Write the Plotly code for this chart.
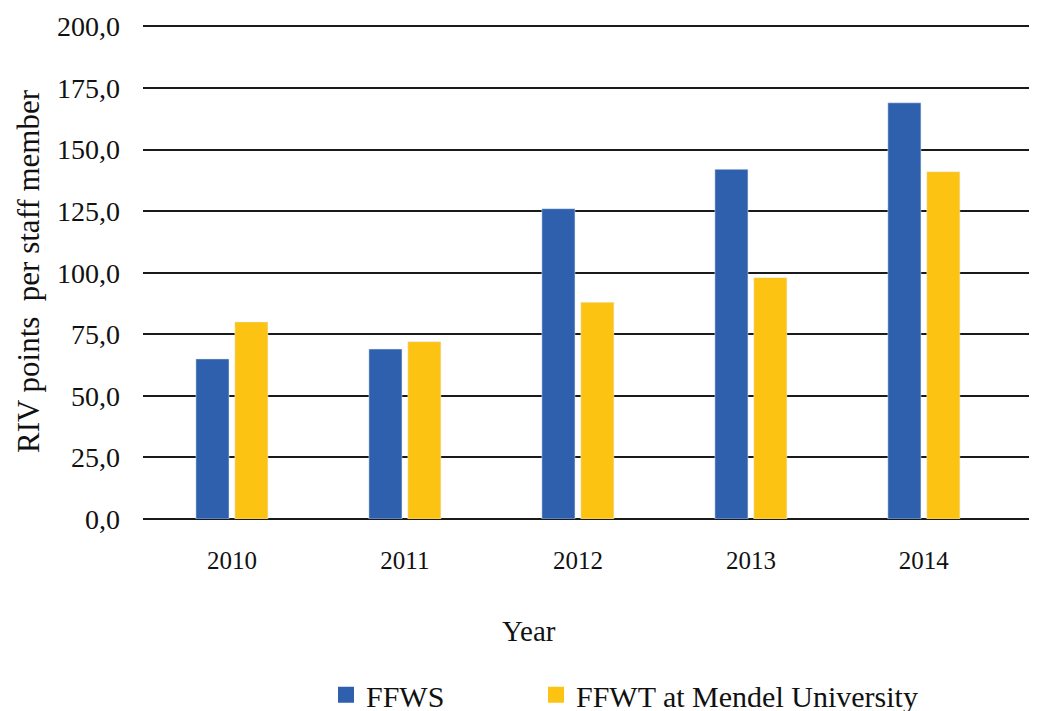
import plotly.graph_objects as go

years = ['2010', '2011', '2012', '2013', '2014']
ffws = [65.0, 69.0, 126.0, 142.0, 169.0]
ffwt = [80.0, 72.0, 88.0, 98.0, 141.0]
y_ticks = [0, 25, 50, 75, 100, 125, 150, 175, 200]

BLUE = '#2E60AD'
YELLOW = '#FCC312'
FONT = 'Liberation Serif'

# the page body has an 8px margin, so the figure is drawn 8px smaller and
# all target page positions are shifted by -8
OFF = 8
W, H = 1037 - OFF, 711 - OFF
PL, PR, PT, PB = 143 - OFF, 1037 - OFF, 26 - OFF - 2.465, 519 - OFF
def px_x(p):
    return (p - OFF - PL) / (PR - PL)
def px_y(p):
    return (PB - (p - OFF)) / (PB - PT)

fig = go.Figure()
fig.add_trace(go.Bar(x=years, y=ffws, marker_color=BLUE, showlegend=False))
fig.add_trace(go.Bar(x=years, y=ffwt, marker_color=YELLOW, showlegend=False))

#--- legend proxies (bigger square symbols), one legend each so they can be placed freely
fig.add_trace(go.Scatter(x=[None], y=[None], mode='markers', name='FFWS', legend='legend',
                         marker=dict(symbol='square', size=16, color=BLUE)))
fig.add_trace(go.Scatter(x=[None], y=[None], mode='markers', name='FFWT at Mendel University',
                         legend='legend2', marker=dict(symbol='square', size=16, color=YELLOW)))

leg = dict(orientation='h', xanchor='left', yanchor='middle', font=dict(size=30),
           itemsizing='trace', bgcolor='rgba(0,0,0,0)', borderwidth=0)

fig.update_layout(
    width=W, height=H,
    margin=dict(l=PL, r=W - PR, t=PT, b=H - PB, autoexpand=False),
    plot_bgcolor='white', paper_bgcolor='white',
    font=dict(family=FONT, color='#111', size=22),
    separators=',.',
    barmode='group', bargap=0.55, bargroupgap=0.15,
    legend=dict(leg, x=px_x(326), y=px_y(695)),
    legend2=dict(leg, x=px_x(536), y=px_y(695)),
    annotations=[dict(text='Year', x=px_x(529), xref='paper', y=px_y(631), yref='paper',
                      yanchor='middle', showarrow=False, font=dict(size=29, family=FONT))],
)
fig.update_xaxes(type='category', range=[-0.514, 4.654], showgrid=False, showline=False,
                 ticks='', ticklabelstandoff=24, tickfont=dict(size=25))
fig.update_yaxes(range=[0, 201], tickvals=y_ticks, tickformat='.1f', showgrid=True,
                 gridcolor='#1a1a1a', gridwidth=1.5, zeroline=True, zerolinecolor='#1a1a1a',
                 zerolinewidth=1.5, showline=False, ticks='', ticklabelstandoff=22,
                 tickfont=dict(size=28),
                 title=dict(text='RIV points  per staff member', font=dict(size=31), standoff=8))

fig.write_html("out.html")
